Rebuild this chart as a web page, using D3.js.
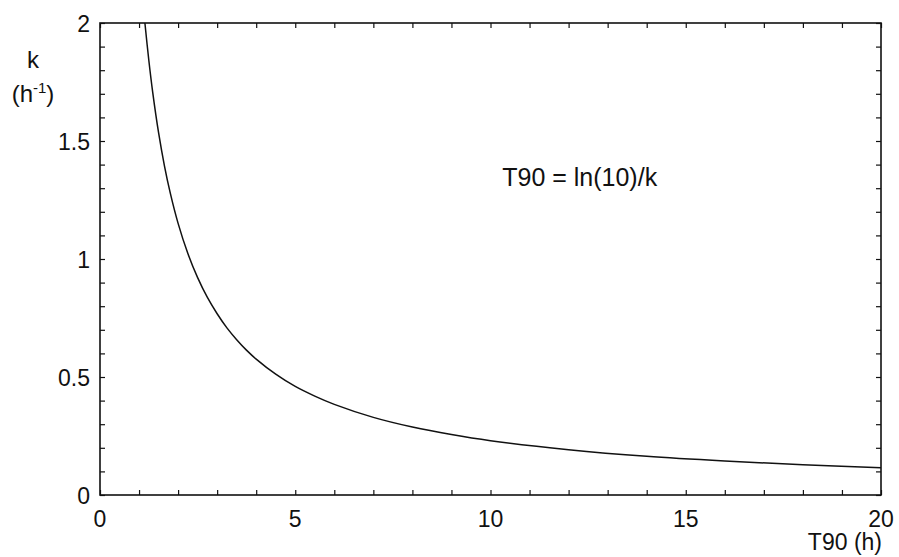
<!DOCTYPE html>
<html>
<head>
<meta charset="utf-8">
<script src="https://cdn.jsdelivr.net/npm/d3@7"></script>
<style>
  body { margin: 0; background: #fff; }
  text { font-family: "Liberation Sans", Arial, sans-serif; fill: #111; }
</style>
</head>
<body>
<div id="chart"></div>
<script>
// values
var t90 = [1.15, 1.25, 1.35, 1.5, 1.65, 1.8, 2, 2.25, 2.5, 2.75, 3, 3.25, 3.5, 3.75, 4, 4.5, 5, 5.5, 6, 7, 8, 9, 10, 12, 14, 16, 18, 20];
var kVals = [2.0, 1.842, 1.706, 1.535, 1.395, 1.279, 1.151, 1.023, 0.921, 0.837, 0.768, 0.708, 0.658, 0.614, 0.576, 0.512, 0.46, 0.419, 0.384, 0.329, 0.288, 0.256, 0.23, 0.192, 0.164, 0.144, 0.128, 0.115];
var xTickLabels = [0, 5, 10, 15, 20];
var yTickLabels = [0, 0.5, 1, 1.5, 2];

var margin = {top: 23, right: 18, bottom: 62, left: 100};
var W = 899, H = 557;
var width = W - margin.left - margin.right;
var height = H - margin.top - margin.bottom;

var svg = d3.select("#chart").append("svg")
  .attr("width", W)
  .attr("height", H);

var g = svg.append("g")
  .attr("transform", "translate(" + margin.left + "," + margin.top + ")");

var x = d3.scaleLinear().domain([0, 20]).range([0, width]);
var y = d3.scaleLinear().domain([0, 2]).range([height, 0]);

// small inward ticks on all four sides
var xt = d3.range(0, 21, 1);
var yt = d3.range(0, 21, 1).map(function(d) { return d / 10; });

g.append("g")
  .attr("transform", "translate(0," + height + ")")
  .call(d3.axisBottom(x).tickValues(xt).tickSize(-5).tickFormat(""))
  .call(function(a) { a.select(".domain").remove(); });
g.append("g")
  .call(d3.axisTop(x).tickValues(xt).tickSize(-5).tickFormat(""))
  .call(function(a) { a.select(".domain").remove(); });
g.append("g")
  .call(d3.axisLeft(y).tickValues(yt).tickSize(-5).tickFormat(""))
  .call(function(a) { a.select(".domain").remove(); });
g.append("g")
  .attr("transform", "translate(" + width + ",0)")
  .call(d3.axisRight(y).tickValues(yt).tickSize(-5).tickFormat(""))
  .call(function(a) { a.select(".domain").remove(); });

g.selectAll(".tick line").attr("stroke", "#111").attr("stroke-width", 1.2);

// frame
g.append("rect")
  .attr("width", width)
  .attr("height", height)
  .attr("fill", "none")
  .attr("stroke", "#111")
  .attr("stroke-width", 1.6);

// tick labels
g.selectAll(".xlab")
  .data(xTickLabels)
  .enter().append("text")
  .attr("x", function(d) { return x(d); })
  .attr("y", height + 32)
  .attr("text-anchor", "middle")
  .style("font-size", "23px")
  .text(function(d) { return d; });

g.selectAll(".ylab")
  .data(yTickLabels)
  .enter().append("text")
  .attr("x", -10)
  .attr("y", function(d) { return y(d) + 9; })
  .attr("text-anchor", "end")
  .style("font-size", "23px")
  .text(function(d) { return d; });

// curve
var pts = t90.map(function(t, i) { return [t, kVals[i]]; });
var line = d3.line()
  .x(function(d) { return x(d[0]); })
  .y(function(d) { return y(d[1]); })
  .curve(d3.curveCatmullRom.alpha(0.5));

g.append("path")
  .datum(pts)
  .attr("d", line)
  .attr("fill", "none")
  .attr("stroke", "#111")
  .attr("stroke-width", 1.5);

// annotation
g.append("text")
  .attr("x", x(10.3))
  .attr("y", y(1.31))
  .style("font-size", "25px")
  .text("T90 = ln(10)/k");

// axis titles
svg.append("text")
  .attr("x", 33)
  .attr("y", 68)
  .attr("text-anchor", "middle")
  .style("font-size", "24px")
  .text("k");

var ht = svg.append("text")
  .attr("x", 33)
  .attr("y", 102)
  .attr("text-anchor", "middle")
  .style("font-size", "24px");
ht.append("tspan").text("(h");
ht.append("tspan").attr("dy", -9).style("font-size", "15px").text("-1");
ht.append("tspan").attr("dy", 9).text(")");

svg.append("text")
  .attr("x", 882)
  .attr("y", 550)
  .attr("text-anchor", "end")
  .style("font-size", "23px")
  .text("T90 (h)");
</script>
</body>
</html>
